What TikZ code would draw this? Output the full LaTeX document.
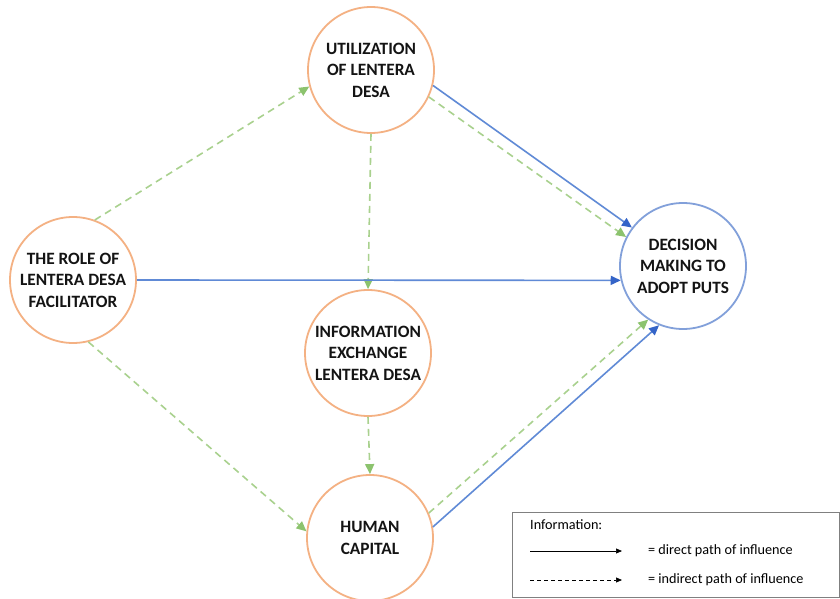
\documentclass[tikz,border=0pt]{standalone}
\usepackage{fontspec}
\setmainfont{Carlito}
\usetikzlibrary{arrows.meta}
\definecolor{orangeC}{RGB}{244,177,131}
\definecolor{blueC}{RGB}{130,160,218}
\definecolor{blueL}{RGB}{96,138,214}
\definecolor{blueT}{RGB}{52,100,200}
\definecolor{greenL}{RGB}{169,209,142}
\definecolor{greenT}{RGB}{140,195,110}
\definecolor{boxG}{RGB}{128,128,128}
\tikzset{
  var/.style={circle, draw=orangeC, line width=1.8pt, minimum size=126pt, inner sep=0pt,
    align=center, font=\fontsize{17.3}{21.5}\selectfont\bfseries, text=black!92},
  outc/.style={var, draw=blueC},
  direct/.style={draw=blueL, line width=1.6pt, -{Triangle[length=10pt,width=9pt,color=blueT]}},
  indirect/.style={draw=greenL, line width=1.6pt, dash pattern=on 7pt off 5pt,
    -{Triangle[length=10pt,width=9pt,color=greenT]}},
  legtxt/.style={anchor=west, inner sep=0pt, font=\fontsize{14.2}{16}\selectfont},
  legsolid/.style={draw=black, line width=0.7pt, -{Triangle[length=6pt,width=5pt]}},
  legdash/.style={legsolid, dash pattern=on 4pt off 3pt},
}
\begin{document}
\begin{tikzpicture}[x=1pt,y=-1pt]
\useasboundingbox (0,0) rectangle (840,599);
\fill[white] (0,0) rectangle (840,599);

\node[var] (util) at (371,70) {\rule{0pt}{8pt}UTILIZATION\\OF LENTERA\\DESA};
\node[var] (role) at (73,280) {THE ROLE OF\\LENTERA DESA\\FACILITATOR};
\node[var] (info) at (368,353) {INFORMATION\\EXCHANGE\\LENTERA DESA};
\node[var] (human) at (370,538) {HUMAN\\CAPITAL};
\node[outc] (dec) at (683,266) {DECISION\\MAKING TO\\ADOPT PUTS};

% indirect paths
\draw[indirect] (role.70) -- (util.195);
\draw[indirect] (role.284) -- (human.174);
\draw[indirect] (util.south) -- (info.north);
\draw[indirect] (info.south) -- (human.north);
\draw[indirect] (util.335) -- (dec.153);
\draw[indirect] (human.23) -- (dec.237);

% direct paths
\draw[direct] (role.east) -- (dec.193);
\draw[direct] (util.346) -- (dec.143);
\draw[direct] (human.10) -- (dec.248);

% legend
\node[draw=boxG, line width=0.8pt, minimum width=327pt, minimum height=85pt, anchor=north west, inner sep=0pt] (legend) at (512,512) {};
\node[legtxt] (legtitle) at (530,525) {Information:};
\coordinate (s1) at (530,551);
\coordinate (e1) at (622,551);
\coordinate (s2) at (530,580);
\coordinate (e2) at (622,580);
\draw[legsolid] (s1) -- (e1);
\draw[legdash] (s2) -- (e2);
\node[legtxt] (l1) at (648,551) {= direct path of influence};
\node[legtxt] (l2) at (648,580) {= indirect path of influence};
\end{tikzpicture}
\end{document}
